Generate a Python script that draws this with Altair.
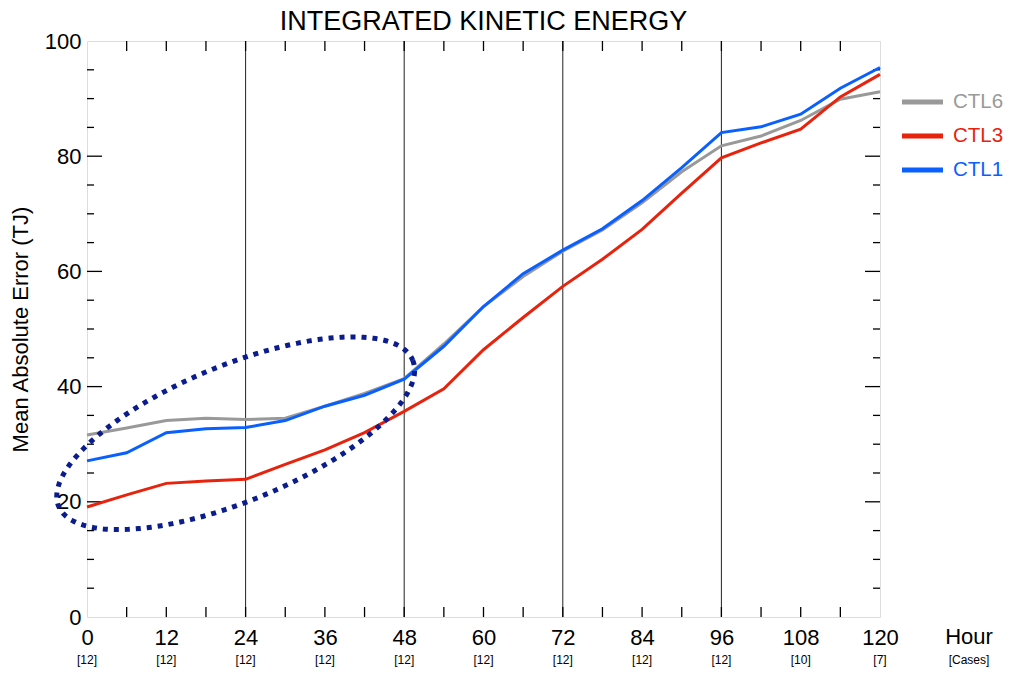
import altair as alt
import numpy as np
import pandas as pd

# ---------------- data ----------------
hours = list(range(0, 121, 6))
ctl6 = [31.6, 32.8, 34.1, 34.5, 34.3, 34.5, 36.6, 38.8, 41.4, 47.4, 53.9,
        59.1, 63.5, 67.2, 71.9, 77.3, 81.8, 83.5, 86.2, 89.9, 91.2]
ctl3 = [19.1, 21.2, 23.2, 23.6, 23.9, 26.5, 29.0, 32.0, 35.7, 39.6, 46.4,
        52.0, 57.4, 62.1, 67.3, 73.6, 79.7, 82.3, 84.7, 90.3, 94.2]
ctl1 = [27.1, 28.5, 32.0, 32.7, 32.9, 34.1, 36.6, 38.5, 41.3, 47.0, 53.9,
        59.6, 63.7, 67.4, 72.3, 78.0, 84.1, 85.1, 87.3, 91.8, 95.4]
series_names = ["CTL6", "CTL3", "CTL1"]
series_colors = ["#999999", "#e8230d", "#0a60ff"]
label_hours = list(range(0, 121, 12))
cases = [12, 12, 12, 12, 12, 12, 12, 12, 12, 10, 7]
grid_hours = [24, 48, 72, 96]
y_labels = [0, 20, 40, 60, 80, 100]
title_text = "INTEGRATED KINETIC ENERGY"

# ---------------- layout ----------------
W, H = 793, 576
FONT = "Liberation Sans"

rows = []
for name, vals in zip(series_names, [ctl6, ctl3, ctl1]):
    for h, v in zip(hours, vals):
        rows.append({"hour": h, "mae": v, "series": name})
df = pd.DataFrame(rows)

xscale = alt.Scale(domain=[0, 120], nice=False, zero=False)
yscale = alt.Scale(domain=[0, 100], nice=False)
color_scale = alt.Scale(domain=series_names, range=series_colors)

xaxis = alt.Axis(values=label_hours, tickSize=0, domain=False, grid=False,
                 labelFontSize=22, labelPadding=20, labelBaseline="middle",
                 labelFont=FONT, labelColor="black", title=None,
                 labelFlush=False, labelOverlap=False)
yaxis = alt.Axis(values=y_labels, tickSize=0, domain=False, grid=False,
                 labelFontSize=22, labelPadding=6, labelFont=FONT,
                 labelColor="black", title="Mean Absolute Error (TJ)",
                 titleFont=FONT, titleFontSize=22, titleFontWeight="normal",
                 titleColor="black", titleX=-67, titleY=H / 2, titleAngle=270,
                 titleAlign="center", titleBaseline="middle",
                 labelFlush=False, labelOverlap=False)

layers = []

# vertical grid lines
layers.append(
    alt.Chart(pd.DataFrame({"hour": grid_hours})).mark_rule(color="#222222", strokeWidth=1)
    .encode(x=alt.X("hour:Q", scale=xscale, axis=xaxis))
)

# inward ticks
tick_h = pd.DataFrame({"hour": list(range(6, 120, 6))})
for y0, y1 in [(H, H - 10), (0, 10)]:
    layers.append(
        alt.Chart(tick_h).mark_rule(color="black", strokeWidth=1.3)
        .encode(x=alt.X("hour:Q", scale=xscale, axis=xaxis),
                y=alt.value(y0), y2=alt.value(y1))
    )
minor_v = pd.DataFrame({"v": [v for v in range(5, 100, 5) if v % 20 != 0]})
major_v = pd.DataFrame({"v": [20, 40, 60, 80]})
for dfv, ln in [(minor_v, 7), (major_v, 15)]:
    for x0, x1 in [(0, ln), (W, W - ln)]:
        layers.append(
            alt.Chart(dfv).mark_rule(color="black", strokeWidth=1.3)
            .encode(y=alt.Y("v:Q", scale=yscale, axis=yaxis),
                    x=alt.value(x0), x2=alt.value(x1))
        )

# data lines
for name in series_names:
    layers.append(
        alt.Chart(df).transform_filter(alt.datum.series == name)
        .mark_line(strokeWidth=3)
        .encode(x=alt.X("hour:Q", scale=xscale, axis=xaxis),
                y=alt.Y("mae:Q", scale=yscale, axis=yaxis),
                color=alt.Color("series:N", scale=color_scale, legend=None))
    )

# dotted ellipse annotation (centre in data units, axes in pixels)
ell_c_hour, ell_c_val = 22.5, 31.9
ell_a, ell_b, ell_rot = 191.5, 68.0, np.deg2rad(-22.4)
t = np.linspace(0, 2 * np.pi, 240)
dx = ell_a * np.cos(ell_rot) * np.cos(t) - ell_b * np.sin(ell_rot) * np.sin(t)
dy = ell_a * np.sin(ell_rot) * np.cos(t) + ell_b * np.cos(ell_rot) * np.sin(t)
ell_df = pd.DataFrame({"i": np.arange(len(t)),
                       "hour": ell_c_hour + dx / (W / 120.0),
                       "mae": ell_c_val - dy / (H / 100.0)})
layers.append(
    alt.Chart(ell_df).mark_line(color="#0b1c8c", strokeWidth=5, strokeDash=[5, 6],
                                strokeCap="butt")
    .encode(x=alt.X("hour:Q", scale=xscale, axis=xaxis),
            y=alt.Y("mae:Q", scale=yscale, axis=yaxis),
            order="i:Q")
)

# cases row
cases_df = pd.DataFrame({"hour": label_hours, "cases": cases})
layers.append(
    alt.Chart(cases_df).transform_calculate(lab="'[' + datum.cases + ']'")
    .mark_text(fontSize=12, font=FONT, baseline="middle", color="black")
    .encode(x=alt.X("hour:Q", scale=xscale, axis=xaxis), y=alt.value(H + 43),
            text="lab:N")
)
layers.append(
    alt.Chart(pd.DataFrame({"t": ["Hour"]}))
    .mark_text(fontSize=22, font=FONT, baseline="middle", color="black")
    .encode(x=alt.value(882), y=alt.value(H + 20), text="t:N")
)
layers.append(
    alt.Chart(pd.DataFrame({"t": ["[Cases]"]}))
    .mark_text(fontSize=12, font=FONT, baseline="middle", color="black")
    .encode(x=alt.value(882), y=alt.value(H + 43), text="t:N")
)

# title
layers.append(
    alt.Chart(pd.DataFrame({"t": [title_text]}))
    .mark_text(fontSize=27, font=FONT, baseline="alphabetic", color="black")
    .encode(x=alt.value(W / 2), y=alt.value(-11), text="t:N")
)

# legend
leg = (alt.Chart(pd.DataFrame({"series": series_names}))
       .transform_window(idx="row_number()")
       .transform_calculate(ly="61 + 34 * (datum.idx - 1)"))
layers.append(
    leg.mark_rule(strokeWidth=5)
    .encode(x=alt.value(815), x2=alt.value(856),
            y=alt.Y("ly:Q", scale=None, axis=None),
            color=alt.Color("series:N", scale=color_scale, legend=None))
)
layers.append(
    leg.mark_text(align="left", baseline="middle", fontSize=20.5, font=FONT)
    .encode(x=alt.value(866), y=alt.Y("ly:Q", scale=None, axis=None),
            text="series:N",
            color=alt.Color("series:N", scale=color_scale, legend=None))
)

chart = (
    alt.layer(*layers)
    .properties(
        width=W, height=H,
        autosize=alt.AutoSizeParams(type="none"),
        padding={"left": 79, "top": 33, "right": 125, "bottom": 50},
    )
    .configure_view(stroke="black", strokeWidth=1.5)
    .configure(background="white")
)

chart.save("out.html", embed_options={"renderer": "svg", "actions": False})
